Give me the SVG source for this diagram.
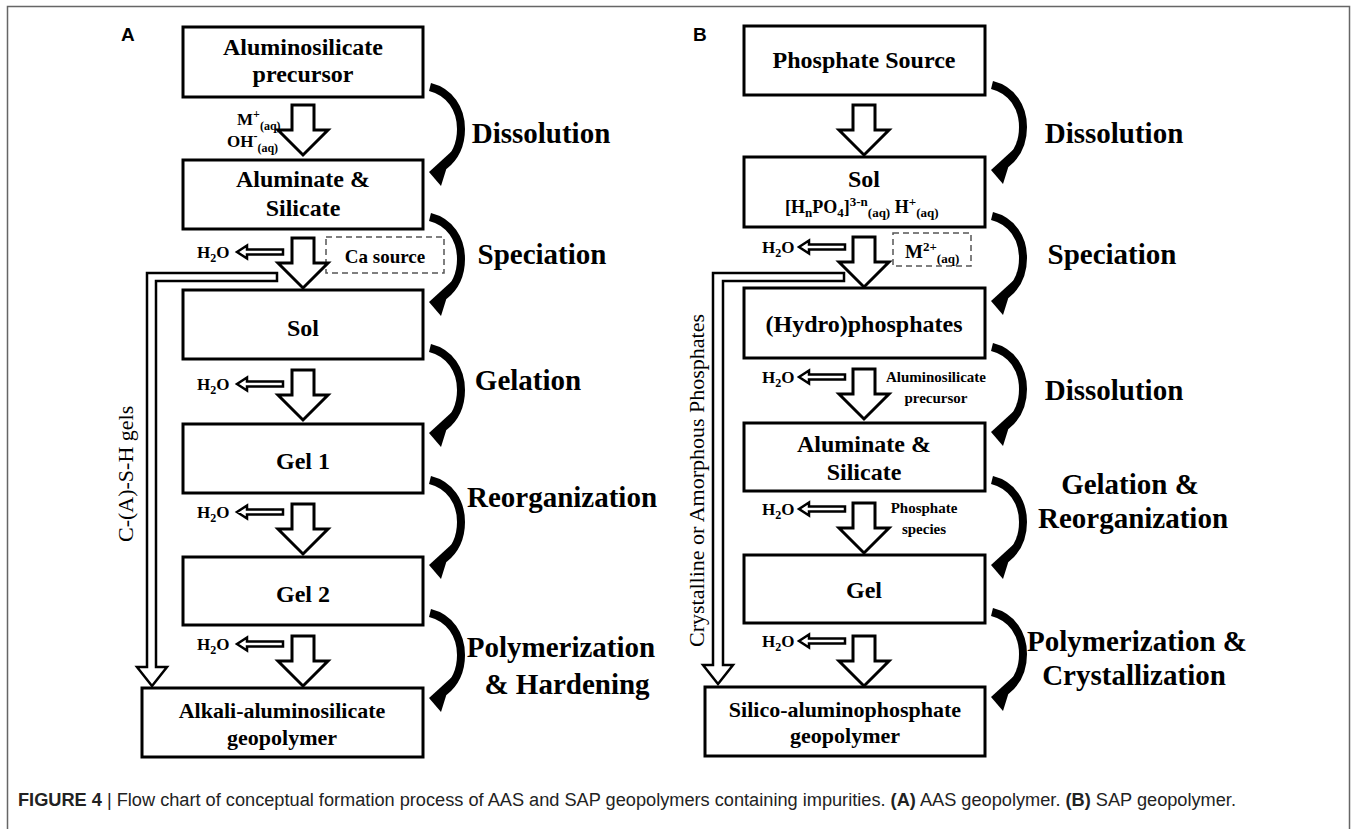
<svg xmlns="http://www.w3.org/2000/svg" xmlns:xlink="http://www.w3.org/1999/xlink" width="1357" height="829" viewBox="0 0 1357 829">
<style>
.box{fill:#fff;stroke:#000;stroke-width:3}
.dash{fill:#fff;stroke:#555;stroke-width:1.5;stroke-dasharray:6 4}
.t{font-family:"Liberation Serif","Times New Roman",serif;font-weight:bold;fill:#000}
.bt{font-size:24px;text-anchor:middle}
.bt2{font-size:22px;text-anchor:middle}
.lbl{font-size:29px;text-anchor:middle}
.sm{font-size:17px}
.xs{font-size:15px;text-anchor:middle}
.side{font-family:"Liberation Serif","Times New Roman",serif;font-size:22px;fill:#000}
.hollow{fill:#fff;stroke:#000;stroke-width:3;stroke-linejoin:miter}
.thin{fill:#fff;stroke:#000;stroke-width:2.5}
.curve{fill:none;stroke:#000;stroke-width:8}
.cap{font-family:"Liberation Sans",Arial,sans-serif;font-size:18px;fill:#222}
.pl{font-family:"Liberation Sans",Arial,sans-serif;font-size:19px;font-weight:bold;fill:#000}
</style>
<defs>
<path id="down" class="hollow" d="M-11,0 H11 V25 H25 L0,50 L-25,25 H-11 Z"/>
<path id="left" class="thin" d="M0,-2.5 H-36 V-6.5 L-46,0 L-36,6.5 V2.5 H0 Z"/>
<g id="carc">
<path class="curve" d="M0,0 C20,5 31,22 31,42 C31,60 24,71 14,79"/>
<path fill="#000" d="M-1,85 L22,64 L11,99 Z"/>
</g>
</defs>
<rect x="7.5" y="6.5" width="1342" height="840" fill="none" stroke="#666" stroke-width="1.5"/>

<text class="pl" x="121" y="41">A</text>
<text class="pl" x="693" y="41">B</text>

<!-- Panel A nodes -->
<g id="a1"><rect class="box" x="183" y="27" width="240" height="70"/>
<text class="t bt" x="303" y="55">Aluminosilicate</text><text class="t bt" x="303" y="82">precursor</text></g>
<g id="a2"><rect class="box" x="183" y="160" width="240" height="69"/>
<text class="t bt" x="303" y="187">Aluminate &amp;</text><text class="t bt" x="303" y="216">Silicate</text></g>
<g id="a3"><rect class="box" x="183" y="290" width="240" height="69"/>
<text class="t bt" x="303" y="336" font-size="25">Sol</text></g>
<g id="a4"><rect class="box" x="183" y="424" width="240" height="69"/>
<text class="t bt" x="303" y="469">Gel 1</text></g>
<g id="a5"><rect class="box" x="183" y="557" width="240" height="68"/>
<text class="t bt" x="303" y="602">Gel 2</text></g>
<g id="a6"><rect class="box" x="142" y="688" width="281" height="69"/>
<text class="t bt2" x="282" y="718">Alkali-aluminosilicate</text><text class="t bt2" x="282" y="745">geopolymer</text></g>
<g id="aca"><rect class="dash" x="326" y="237" width="118" height="36"/>
<text class="t" x="385" y="263" font-size="19" text-anchor="middle">Ca source</text></g>

<!-- Panel B nodes -->
<g id="b1"><rect class="box" x="744" y="26" width="241" height="69"/>
<text class="t bt" x="864" y="68">Phosphate Source</text></g>
<g id="b2"><rect class="box" x="744" y="157" width="241" height="70"/>
<text class="t bt" x="864" y="187">Sol</text>
<text class="t" x="785" y="213" font-size="18">[H<tspan font-size="13" dy="4">n</tspan><tspan dy="-4">PO</tspan><tspan font-size="13" dy="4">4</tspan><tspan dy="-4">]</tspan><tspan font-size="13" dy="-7">3-n</tspan><tspan font-size="13" dy="11">(aq)</tspan><tspan dy="-4"> H</tspan><tspan font-size="13" dy="-7">+</tspan><tspan font-size="13" dy="11">(aq)</tspan></text></g>
<g id="b3"><rect class="box" x="744" y="288" width="241" height="70"/>
<text class="t bt" x="864" y="332">(Hydro)phosphates</text></g>
<g id="b4"><rect class="box" x="744" y="423" width="241" height="68"/>
<text class="t bt" x="864" y="452">Aluminate &amp;</text><text class="t bt" x="864" y="480">Silicate</text></g>
<g id="b5"><rect class="box" x="744" y="555" width="241" height="68"/>
<text class="t bt" x="864" y="598" font-size="25">Gel</text></g>
<g id="b6"><rect class="box" x="705" y="687" width="280" height="69"/>
<text class="t bt2" x="845" y="717">Silico-aluminophosphate</text><text class="t bt2" x="845" y="743">geopolymer</text></g>
<g id="bm"><rect class="dash" x="893" y="233" width="78" height="33"/>
<text class="t" x="905" y="258" font-size="19">M<tspan font-size="13" dy="-7">2+</tspan><tspan font-size="13" dy="12">(aq)</tspan></text></g>

<!-- connectors -->
<g id="connectors">
<use href="#down" x="303" y="105"/>
<use href="#down" x="303" y="238"/>
<use href="#down" x="303" y="370"/>
<use href="#down" x="303" y="504"/>
<use href="#down" x="303" y="636"/>
<use href="#down" x="864" y="105"/>
<use href="#down" x="864" y="237"/>
<use href="#down" x="864" y="369"/>
<use href="#down" x="864" y="503"/>
<use href="#down" x="864" y="636"/>

<use href="#left" x="283" y="252"/>
<use href="#left" x="283" y="384"/>
<use href="#left" x="283" y="512"/>
<use href="#left" x="283" y="644"/>
<use href="#left" x="845" y="247"/>
<use href="#left" x="845" y="377"/>
<use href="#left" x="845" y="509"/>
<use href="#left" x="845" y="641"/>

<path class="thin" d="M277,273 H147 V667 H137 L152,686 L167,667 H156 V281 H277 Z"/>
<path class="thin" d="M844,273 H713 V665 H703 L718,684 L733,665 H723 V281 H844 Z"/>

<use href="#carc" x="430" y="87"/>
<use href="#carc" x="430" y="217"/>
<use href="#carc" x="430" y="348"/>
<use href="#carc" x="430" y="480"/>
<use href="#carc" x="430" y="613"/>
<use href="#carc" x="992" y="85"/>
<use href="#carc" x="992" y="216"/>
<use href="#carc" x="992" y="347"/>
<use href="#carc" x="992" y="480"/>
<use href="#carc" x="992" y="612"/>
</g>

<!-- arrow labels -->
<g id="albl">
<text class="t sm" x="237" y="125">M<tspan font-size="12" dy="-7">+</tspan><tspan font-size="12" dy="12">(aq)</tspan></text>
<text class="t sm" x="227" y="147">OH<tspan font-size="12" dy="-7">-</tspan><tspan font-size="12" dy="12">(aq)</tspan></text>
<text class="t sm" x="197" y="258">H<tspan font-size="12" dy="4">2</tspan><tspan dy="-4">O</tspan></text>
<text class="t sm" x="197" y="390">H<tspan font-size="12" dy="4">2</tspan><tspan dy="-4">O</tspan></text>
<text class="t sm" x="197" y="518">H<tspan font-size="12" dy="4">2</tspan><tspan dy="-4">O</tspan></text>
<text class="t sm" x="197" y="650">H<tspan font-size="12" dy="4">2</tspan><tspan dy="-4">O</tspan></text>
<text class="t sm" x="762" y="253">H<tspan font-size="12" dy="4">2</tspan><tspan dy="-4">O</tspan></text>
<text class="t sm" x="762" y="383">H<tspan font-size="12" dy="4">2</tspan><tspan dy="-4">O</tspan></text>
<text class="t sm" x="762" y="515">H<tspan font-size="12" dy="4">2</tspan><tspan dy="-4">O</tspan></text>
<text class="t sm" x="762" y="647">H<tspan font-size="12" dy="4">2</tspan><tspan dy="-4">O</tspan></text>
<text class="t xs" x="936" y="382">Aluminosilicate</text>
<text class="t xs" x="936" y="403">precursor</text>
<text class="t xs" x="924" y="513">Phosphate</text>
<text class="t xs" x="924" y="534">species</text>
<text class="side" transform="translate(133,542) rotate(-90)">C-(A)-S-H gels</text>
<text class="side" transform="translate(704,647) rotate(-90)">Crystalline or Amorphous Phosphates</text>
</g>

<!-- stage labels -->
<g id="stages">
<text class="t lbl" x="541" y="143">Dissolution</text>
<text class="t lbl" x="542" y="264">Speciation</text>
<text class="t lbl" x="528" y="390">Gelation</text>
<text class="t lbl" x="562" y="507">Reorganization</text>
<text class="t lbl" x="561" y="657">Polymerization</text>
<text class="t lbl" x="567" y="694">&amp; Hardening</text>
<text class="t lbl" x="1114" y="143">Dissolution</text>
<text class="t lbl" x="1112" y="264">Speciation</text>
<text class="t lbl" x="1114" y="400">Dissolution</text>
<text class="t lbl" x="1130" y="494">Gelation &amp;</text>
<text class="t lbl" x="1133" y="528">Reorganization</text>
<text class="t lbl" x="1137" y="651">Polymerization &amp;</text>
<text class="t lbl" x="1134" y="685">Crystallization</text>
</g>

<text class="cap" x="18" y="806" textLength="1218" lengthAdjust="spacingAndGlyphs"><tspan font-weight="bold">FIGURE 4</tspan> | Flow chart of conceptual formation process of AAS and SAP geopolymers containing impurities. <tspan font-weight="bold">(A)</tspan> AAS geopolymer. <tspan font-weight="bold">(B)</tspan> SAP geopolymer.</text>
</svg>
